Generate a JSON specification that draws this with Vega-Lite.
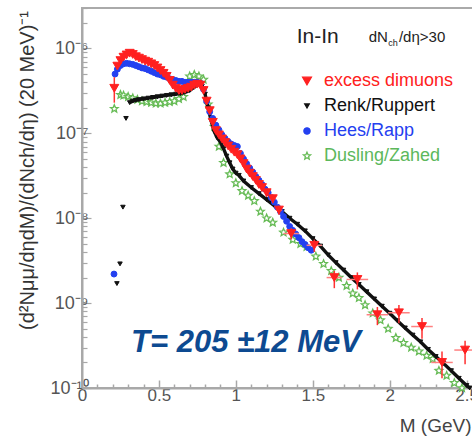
{
  "$schema": "https://vega.github.io/schema/vega-lite/v6.json",
  "autosize": {"type": "none"},
  "padding": {"left": 82, "top": 8, "right": 0, "bottom": 51},
  "width": 400,
  "height": 380,
  "background": "white",
  "resolve": {"axis": {"x": "independent", "y": "independent"}},
  "config": {
    "view": {"stroke": "#aaaaaa", "strokeWidth": 2},
    "font": "Arial",
    "legend": {
      "orient": "none", "legendX": 216, "legendY": 64, "padding": 0,
      "labelFontSize": 18, "labelFont": "Arial", "labelOffset": 8, "rowPadding": 7,
      "symbolStrokeWidth": 1.2, "title": null,
      "symbolSize": {"expr": "datum.value == 'excess dimuons' ? 80 : datum.value == 'Renk/Ruppert' ? 22 : datum.value == 'Hees/Rapp' ? 40 : 60"},
      "labelColor": {"expr": "datum.value == 'excess dimuons' ? '#ff2020' : datum.value == 'Renk/Ruppert' ? '#111111' : datum.value == 'Hees/Rapp' ? '#2440f0' : '#5cb85c'"}
    }
  },
  "datasets": {
    "excess": [
      {"series":"excess dimuons","M":0.21,"v":3.4e-7,"lo":2.3e-7,"hi":4.6e-7},
      {"series":"excess dimuons","M":0.23,"v":6.2e-7},
      {"series":"excess dimuons","M":0.25,"v":7.2e-7},
      {"series":"excess dimuons","M":0.27,"v":7.9e-7},
      {"series":"excess dimuons","M":0.29,"v":8.4e-7},
      {"series":"excess dimuons","M":0.31,"v":8.8e-7},
      {"series":"excess dimuons","M":0.33,"v":8.5e-7},
      {"series":"excess dimuons","M":0.35,"v":8.0e-7},
      {"series":"excess dimuons","M":0.37,"v":7.7e-7},
      {"series":"excess dimuons","M":0.39,"v":7.4e-7},
      {"series":"excess dimuons","M":0.41,"v":7.1e-7},
      {"series":"excess dimuons","M":0.43,"v":6.9e-7},
      {"series":"excess dimuons","M":0.45,"v":6.6e-7},
      {"series":"excess dimuons","M":0.47,"v":6.3e-7},
      {"series":"excess dimuons","M":0.49,"v":5.9e-7},
      {"series":"excess dimuons","M":0.51,"v":5.5e-7},
      {"series":"excess dimuons","M":0.53,"v":5.1e-7},
      {"series":"excess dimuons","M":0.55,"v":4.7e-7},
      {"series":"excess dimuons","M":0.57,"v":4.2e-7},
      {"series":"excess dimuons","M":0.59,"v":3.7e-7},
      {"series":"excess dimuons","M":0.61,"v":3.4e-7},
      {"series":"excess dimuons","M":0.63,"v":3.2e-7},
      {"series":"excess dimuons","M":0.65,"v":3.2e-7},
      {"series":"excess dimuons","M":0.67,"v":3.3e-7},
      {"series":"excess dimuons","M":0.69,"v":3.4e-7},
      {"series":"excess dimuons","M":0.71,"v":3.5e-7},
      {"series":"excess dimuons","M":0.73,"v":3.7e-7},
      {"series":"excess dimuons","M":0.75,"v":3.8e-7},
      {"series":"excess dimuons","M":0.77,"v":3.7e-7},
      {"series":"excess dimuons","M":0.79,"v":3.2e-7},
      {"series":"excess dimuons","M":0.81,"v":2.4e-7},
      {"series":"excess dimuons","M":0.83,"v":1.85e-7},
      {"series":"excess dimuons","M":0.85,"v":1.35e-7},
      {"series":"excess dimuons","M":0.87,"v":1.08e-7},
      {"series":"excess dimuons","M":0.89,"v":9.6e-8},
      {"series":"excess dimuons","M":0.91,"v":8.6e-8},
      {"series":"excess dimuons","M":0.93,"v":7.8e-8},
      {"series":"excess dimuons","M":0.95,"v":7.1e-8},
      {"series":"excess dimuons","M":0.97,"v":6.5e-8},
      {"series":"excess dimuons","M":0.99,"v":6.0e-8},
      {"series":"excess dimuons","M":1.01,"v":5.6e-8},
      {"series":"excess dimuons","M":1.03,"v":5.0e-8},
      {"series":"excess dimuons","M":1.05,"v":4.4e-8},
      {"series":"excess dimuons","M":1.07,"v":3.8e-8},
      {"series":"excess dimuons","M":1.09,"v":3.4e-8},
      {"series":"excess dimuons","M":1.11,"v":3.1e-8},
      {"series":"excess dimuons","M":1.13,"v":2.8e-8},
      {"series":"excess dimuons","M":1.15,"v":2.5e-8},
      {"series":"excess dimuons","M":1.17,"v":2.3e-8},
      {"series":"excess dimuons","M":1.2,"v":2.0e-8,"lo":1.8e-8,"hi":2.2e-8},
      {"series":"excess dimuons","M":1.24,"v":1.7e-8,"lo":1.5e-8,"hi":1.9e-8,"xlo":1.22,"xhi":1.26},
      {"series":"excess dimuons","M":1.28,"v":1.25e-8,"lo":1.1e-8,"hi":1.4e-8,"xlo":1.26,"xhi":1.30},
      {"series":"excess dimuons","M":1.36,"v":6.6e-9,"lo":5.6e-9,"hi":7.6e-9,"xlo":1.31,"xhi":1.41},
      {"series":"excess dimuons","M":1.51,"v":4.8e-9,"lo":4.0e-9,"hi":5.6e-9,"xlo":1.46,"xhi":1.56},
      {"series":"excess dimuons","M":1.64,"v":2.0e-9,"lo":1.5e-9,"hi":2.4e-9,"xlo":1.59,"xhi":1.69},
      {"series":"excess dimuons","M":1.79,"v":1.9e-9,"lo":1.45e-9,"hi":2.3e-9,"xlo":1.72,"xhi":1.86},
      {"series":"excess dimuons","M":1.92,"v":7.3e-10,"lo":5.5e-10,"hi":9.0e-10,"xlo":1.85,"xhi":1.99},
      {"series":"excess dimuons","M":2.06,"v":7.7e-10,"lo":5.8e-10,"hi":9.5e-10,"xlo":1.99,"xhi":2.13},
      {"series":"excess dimuons","M":2.21,"v":5.3e-10,"lo":3.8e-10,"hi":6.7e-10,"xlo":2.14,"xhi":2.28},
      {"series":"excess dimuons","M":2.34,"v":2.0e-10,"lo":1.3e-10,"hi":2.7e-10,"xlo":2.27,"xhi":2.41},
      {"series":"excess dimuons","M":2.49,"v":2.8e-10,"lo":1.9e-10,"hi":3.6e-10,"xlo":2.42,"xhi":2.56}
    ],
    "renk": [
      {"series":"Renk/Ruppert","M":0.227,"v":1.7e-9},
      {"series":"Renk/Ruppert","M":0.247,"v":2.9e-9},
      {"series":"Renk/Ruppert","M":0.266,"v":1.35e-8},
      {"series":"Renk/Ruppert","M":0.286,"v":1.5e-7},
      {"series":"Renk/Ruppert","M":0.31,"v":2.3e-7},
      {"series":"Renk/Ruppert","M":0.33,"v":2.4e-7},
      {"series":"Renk/Ruppert","M":0.35,"v":2.45e-7},
      {"series":"Renk/Ruppert","M":0.37,"v":2.5e-7},
      {"series":"Renk/Ruppert","M":0.40,"v":2.55e-7},
      {"series":"Renk/Ruppert","M":0.43,"v":2.6e-7},
      {"series":"Renk/Ruppert","M":0.46,"v":2.65e-7},
      {"series":"Renk/Ruppert","M":0.49,"v":2.7e-7},
      {"series":"Renk/Ruppert","M":0.52,"v":2.75e-7},
      {"series":"Renk/Ruppert","M":0.55,"v":2.8e-7},
      {"series":"Renk/Ruppert","M":0.58,"v":2.85e-7},
      {"series":"Renk/Ruppert","M":0.61,"v":2.9e-7},
      {"series":"Renk/Ruppert","M":0.64,"v":2.95e-7},
      {"series":"Renk/Ruppert","M":0.67,"v":3.05e-7},
      {"series":"Renk/Ruppert","M":0.70,"v":3.2e-7},
      {"series":"Renk/Ruppert","M":0.73,"v":3.5e-7},
      {"series":"Renk/Ruppert","M":0.76,"v":3.8e-7},
      {"series":"Renk/Ruppert","M":0.78,"v":3.6e-7},
      {"series":"Renk/Ruppert","M":0.80,"v":2.9e-7},
      {"series":"Renk/Ruppert","M":0.82,"v":2.0e-7},
      {"series":"Renk/Ruppert","M":0.84,"v":1.4e-7},
      {"series":"Renk/Ruppert","M":0.86,"v":1.05e-7},
      {"series":"Renk/Ruppert","M":0.88,"v":8.8e-8},
      {"series":"Renk/Ruppert","M":0.90,"v":7.9e-8},
      {"series":"Renk/Ruppert","M":0.92,"v":6.6e-8},
      {"series":"Renk/Ruppert","M":0.94,"v":5.4e-8},
      {"series":"Renk/Ruppert","M":0.96,"v":4.5e-8},
      {"series":"Renk/Ruppert","M":0.98,"v":3.8e-8},
      {"series":"Renk/Ruppert","M":1.00,"v":3.4e-8},
      {"series":"Renk/Ruppert","M":1.02,"v":3.2e-8},
      {"series":"Renk/Ruppert","M":1.05,"v":2.75e-8},
      {"series":"Renk/Ruppert","M":1.10,"v":2.3e-8},
      {"series":"Renk/Ruppert","M":1.15,"v":1.95e-8},
      {"series":"Renk/Ruppert","M":1.20,"v":1.66e-8},
      {"series":"Renk/Ruppert","M":1.25,"v":1.41e-8},
      {"series":"Renk/Ruppert","M":1.30,"v":1.2e-8},
      {"series":"Renk/Ruppert","M":1.35,"v":1.0e-8},
      {"series":"Renk/Ruppert","M":1.40,"v":8.5e-9},
      {"series":"Renk/Ruppert","M":1.45,"v":7.1e-9},
      {"series":"Renk/Ruppert","M":1.50,"v":5.75e-9},
      {"series":"Renk/Ruppert","M":1.55,"v":4.7e-9},
      {"series":"Renk/Ruppert","M":1.60,"v":3.7e-9},
      {"series":"Renk/Ruppert","M":1.65,"v":3.0e-9},
      {"series":"Renk/Ruppert","M":1.70,"v":2.45e-9},
      {"series":"Renk/Ruppert","M":1.75,"v":2.0e-9},
      {"series":"Renk/Ruppert","M":1.80,"v":1.66e-9},
      {"series":"Renk/Ruppert","M":1.85,"v":1.36e-9},
      {"series":"Renk/Ruppert","M":1.90,"v":1.12e-9},
      {"series":"Renk/Ruppert","M":1.95,"v":9.2e-10},
      {"series":"Renk/Ruppert","M":2.00,"v":7.6e-10},
      {"series":"Renk/Ruppert","M":2.05,"v":6.2e-10},
      {"series":"Renk/Ruppert","M":2.10,"v":5.1e-10},
      {"series":"Renk/Ruppert","M":2.15,"v":4.2e-10},
      {"series":"Renk/Ruppert","M":2.20,"v":3.5e-10},
      {"series":"Renk/Ruppert","M":2.25,"v":2.85e-10},
      {"series":"Renk/Ruppert","M":2.30,"v":2.35e-10},
      {"series":"Renk/Ruppert","M":2.35,"v":1.95e-10},
      {"series":"Renk/Ruppert","M":2.40,"v":1.6e-10},
      {"series":"Renk/Ruppert","M":2.45,"v":1.3e-10},
      {"series":"Renk/Ruppert","M":2.50,"v":1.07e-10},
      {"series":"Renk/Ruppert","M":2.52,"v":1.0e-10}
    ],
    "hees": [
      {"series":"Hees/Rapp","M":0.208,"v":2.2e-9},
      {"series":"Hees/Rapp","M":0.215,"v":5.0e-7},
      {"series":"Hees/Rapp","M":0.23,"v":5.7e-7},
      {"series":"Hees/Rapp","M":0.25,"v":6.3e-7},
      {"series":"Hees/Rapp","M":0.27,"v":6.6e-7},
      {"series":"Hees/Rapp","M":0.29,"v":6.7e-7},
      {"series":"Hees/Rapp","M":0.31,"v":6.6e-7},
      {"series":"Hees/Rapp","M":0.33,"v":6.5e-7},
      {"series":"Hees/Rapp","M":0.35,"v":6.3e-7},
      {"series":"Hees/Rapp","M":0.37,"v":6.1e-7},
      {"series":"Hees/Rapp","M":0.39,"v":5.9e-7},
      {"series":"Hees/Rapp","M":0.41,"v":5.8e-7},
      {"series":"Hees/Rapp","M":0.43,"v":5.6e-7},
      {"series":"Hees/Rapp","M":0.45,"v":5.4e-7},
      {"series":"Hees/Rapp","M":0.47,"v":5.2e-7},
      {"series":"Hees/Rapp","M":0.49,"v":5.0e-7},
      {"series":"Hees/Rapp","M":0.51,"v":4.9e-7},
      {"series":"Hees/Rapp","M":0.53,"v":4.7e-7},
      {"series":"Hees/Rapp","M":0.55,"v":4.6e-7},
      {"series":"Hees/Rapp","M":0.57,"v":4.4e-7},
      {"series":"Hees/Rapp","M":0.59,"v":4.3e-7},
      {"series":"Hees/Rapp","M":0.61,"v":4.2e-7},
      {"series":"Hees/Rapp","M":0.63,"v":4.1e-7},
      {"series":"Hees/Rapp","M":0.65,"v":4.1e-7},
      {"series":"Hees/Rapp","M":0.67,"v":4.0e-7},
      {"series":"Hees/Rapp","M":0.69,"v":4.0e-7},
      {"series":"Hees/Rapp","M":0.71,"v":4.0e-7},
      {"series":"Hees/Rapp","M":0.73,"v":4.0e-7},
      {"series":"Hees/Rapp","M":0.75,"v":4.0e-7},
      {"series":"Hees/Rapp","M":0.77,"v":3.9e-7},
      {"series":"Hees/Rapp","M":0.79,"v":3.3e-7},
      {"series":"Hees/Rapp","M":0.81,"v":2.4e-7},
      {"series":"Hees/Rapp","M":0.83,"v":1.8e-7},
      {"series":"Hees/Rapp","M":0.85,"v":1.5e-7},
      {"series":"Hees/Rapp","M":0.87,"v":1.25e-7},
      {"series":"Hees/Rapp","M":0.89,"v":1.1e-7},
      {"series":"Hees/Rapp","M":0.91,"v":9.6e-8},
      {"series":"Hees/Rapp","M":0.93,"v":8.7e-8},
      {"series":"Hees/Rapp","M":0.95,"v":8.0e-8},
      {"series":"Hees/Rapp","M":0.97,"v":7.5e-8},
      {"series":"Hees/Rapp","M":0.99,"v":7.2e-8},
      {"series":"Hees/Rapp","M":1.01,"v":7.0e-8},
      {"series":"Hees/Rapp","M":1.03,"v":5.8e-8},
      {"series":"Hees/Rapp","M":1.05,"v":5.0e-8},
      {"series":"Hees/Rapp","M":1.07,"v":4.4e-8},
      {"series":"Hees/Rapp","M":1.09,"v":3.9e-8},
      {"series":"Hees/Rapp","M":1.11,"v":3.5e-8},
      {"series":"Hees/Rapp","M":1.13,"v":3.1e-8},
      {"series":"Hees/Rapp","M":1.15,"v":2.8e-8},
      {"series":"Hees/Rapp","M":1.17,"v":2.5e-8},
      {"series":"Hees/Rapp","M":1.19,"v":2.2e-8},
      {"series":"Hees/Rapp","M":1.21,"v":2.0e-8},
      {"series":"Hees/Rapp","M":1.23,"v":1.75e-8},
      {"series":"Hees/Rapp","M":1.25,"v":1.55e-8},
      {"series":"Hees/Rapp","M":1.27,"v":1.35e-8},
      {"series":"Hees/Rapp","M":1.29,"v":1.2e-8},
      {"series":"Hees/Rapp","M":1.31,"v":1.05e-8},
      {"series":"Hees/Rapp","M":1.33,"v":9.2e-9},
      {"series":"Hees/Rapp","M":1.35,"v":8.0e-9},
      {"series":"Hees/Rapp","M":1.37,"v":7.2e-9},
      {"series":"Hees/Rapp","M":1.39,"v":6.5e-9},
      {"series":"Hees/Rapp","M":1.41,"v":5.9e-9},
      {"series":"Hees/Rapp","M":1.43,"v":5.3e-9},
      {"series":"Hees/Rapp","M":1.45,"v":4.9e-9},
      {"series":"Hees/Rapp","M":1.47,"v":4.5e-9},
      {"series":"Hees/Rapp","M":1.49,"v":4.2e-9}
    ],
    "dusling": [
      {"series":"Dusling/Zahed","M":0.21,"v":1.95e-7},
      {"series":"Dusling/Zahed","M":0.25,"v":2.85e-7},
      {"series":"Dusling/Zahed","M":0.27,"v":2.8e-7},
      {"series":"Dusling/Zahed","M":0.30,"v":2.7e-7},
      {"series":"Dusling/Zahed","M":0.33,"v":2.6e-7},
      {"series":"Dusling/Zahed","M":0.36,"v":2.5e-7},
      {"series":"Dusling/Zahed","M":0.39,"v":2.4e-7},
      {"series":"Dusling/Zahed","M":0.42,"v":2.35e-7},
      {"series":"Dusling/Zahed","M":0.45,"v":2.3e-7},
      {"series":"Dusling/Zahed","M":0.48,"v":2.25e-7},
      {"series":"Dusling/Zahed","M":0.51,"v":2.25e-7},
      {"series":"Dusling/Zahed","M":0.54,"v":2.3e-7},
      {"series":"Dusling/Zahed","M":0.57,"v":2.35e-7},
      {"series":"Dusling/Zahed","M":0.60,"v":2.4e-7},
      {"series":"Dusling/Zahed","M":0.63,"v":2.55e-7},
      {"series":"Dusling/Zahed","M":0.66,"v":2.7e-7},
      {"series":"Dusling/Zahed","M":0.70,"v":4.7e-7},
      {"series":"Dusling/Zahed","M":0.73,"v":4.9e-7},
      {"series":"Dusling/Zahed","M":0.76,"v":4.7e-7},
      {"series":"Dusling/Zahed","M":0.79,"v":4.3e-7},
      {"series":"Dusling/Zahed","M":0.82,"v":2.2e-7},
      {"series":"Dusling/Zahed","M":0.86,"v":1.2e-7},
      {"series":"Dusling/Zahed","M":0.89,"v":7.0e-8},
      {"series":"Dusling/Zahed","M":0.92,"v":4.5e-8},
      {"series":"Dusling/Zahed","M":0.96,"v":3.3e-8},
      {"series":"Dusling/Zahed","M":1.00,"v":2.6e-8},
      {"series":"Dusling/Zahed","M":1.04,"v":2.1e-8},
      {"series":"Dusling/Zahed","M":1.08,"v":1.85e-8},
      {"series":"Dusling/Zahed","M":1.12,"v":1.6e-8},
      {"series":"Dusling/Zahed","M":1.16,"v":1.2e-8},
      {"series":"Dusling/Zahed","M":1.20,"v":1.0e-8},
      {"series":"Dusling/Zahed","M":1.24,"v":8.9e-9},
      {"series":"Dusling/Zahed","M":1.31,"v":6.8e-9},
      {"series":"Dusling/Zahed","M":1.37,"v":5.6e-9},
      {"series":"Dusling/Zahed","M":1.42,"v":5.0e-9},
      {"series":"Dusling/Zahed","M":1.46,"v":4.6e-9},
      {"series":"Dusling/Zahed","M":1.52,"v":3.55e-9},
      {"series":"Dusling/Zahed","M":1.57,"v":2.9e-9},
      {"series":"Dusling/Zahed","M":1.62,"v":2.4e-9},
      {"series":"Dusling/Zahed","M":1.67,"v":2.0e-9},
      {"series":"Dusling/Zahed","M":1.72,"v":1.6e-9},
      {"series":"Dusling/Zahed","M":1.76,"v":1.3e-9},
      {"series":"Dusling/Zahed","M":1.80,"v":1.15e-9},
      {"series":"Dusling/Zahed","M":1.84,"v":9.5e-10},
      {"series":"Dusling/Zahed","M":1.89,"v":7.6e-10},
      {"series":"Dusling/Zahed","M":1.94,"v":6.3e-10},
      {"series":"Dusling/Zahed","M":1.99,"v":5.0e-10},
      {"series":"Dusling/Zahed","M":2.04,"v":3.9e-10},
      {"series":"Dusling/Zahed","M":2.09,"v":3.4e-10},
      {"series":"Dusling/Zahed","M":2.14,"v":3.0e-10},
      {"series":"Dusling/Zahed","M":2.19,"v":2.7e-10},
      {"series":"Dusling/Zahed","M":2.24,"v":2.4e-10},
      {"series":"Dusling/Zahed","M":2.28,"v":2.2e-10},
      {"series":"Dusling/Zahed","M":2.32,"v":1.6e-10},
      {"series":"Dusling/Zahed","M":2.37,"v":1.4e-10},
      {"series":"Dusling/Zahed","M":2.42,"v":1.15e-10},
      {"series":"Dusling/Zahed","M":2.47,"v":1.0e-10}
    ]
  },
  "layer": [
    {
      "encoding": {
        "x": {
          "field": "M", "type": "quantitative",
          "scale": {"domain": [0, 2.6], "nice": false, "zero": false},
          "axis": {
            "title": "M (GeV)",
            "values": [0,0.1,0.2,0.3,0.4,0.5,0.6,0.7,0.8,0.9,1,1.1,1.2,1.3,1.4,1.5,1.6,1.7,1.8,1.9,2,2.1,2.2,2.3,2.4,2.5,2.6],
            "labelExpr": "abs(datum.value*2 - round(datum.value*2)) < 0.001 ? format(datum.value, '~g') : ''",
            "tickSize": {"condition": {"test": "abs(datum.value*2 - round(datum.value*2)) < 0.001", "value": -8}, "value": -4},
            "titleX": 389, "titleY": 37, "titleAlign": "right", "titleBaseline": "middle",
            "titleFontSize": 19, "titleFontWeight": "normal", "titleColor": "#444444", "titleFont": "Arial",
            "labelFontSize": 17, "labelColor": "#555555", "labelFont": "Arial", "labelPadding": 7,
            "labelFlush": false, "labelOverlap": false,
            "domainColor": "#a8a8a8", "domainWidth": 2, "tickColor": "#a8a8a8", "tickWidth": 1.5, "grid": false
          }
        },
        "y": {
          "field": "v", "type": "quantitative",
          "scale": {"type": "log", "domain": [1e-10, 3e-6], "nice": false},
          "axis": {
            "title": "(d²Nμμ/dηdM)/(dNch/dη) (20 MeV)⁻¹",
            "values": [1e-10,2e-10,3e-10,4e-10,5e-10,6e-10,7e-10,8e-10,9e-10,1e-9,2e-9,3e-9,4e-9,5e-9,6e-9,7e-9,8e-9,9e-9,1e-8,2e-8,3e-8,4e-8,5e-8,6e-8,7e-8,8e-8,9e-8,1e-7,2e-7,3e-7,4e-7,5e-7,6e-7,7e-7,8e-7,9e-7,1e-6,2e-6,3e-6],
            "labelExpr": "abs(log(datum.value)/LN10 - round(log(datum.value)/LN10)) > 0.001 ? '' : round(log(datum.value)/LN10) == -10 ? '10⁻¹⁰' : round(log(datum.value)/LN10) == -9 ? '10⁻⁹' : round(log(datum.value)/LN10) == -8 ? '10⁻⁸' : round(log(datum.value)/LN10) == -7 ? '10⁻⁷' : '10⁻⁶'",
            "tickSize": {"condition": {"test": "abs(log(datum.value)/LN10 - round(log(datum.value)/LN10)) < 0.001", "value": -9}, "value": -5},
            "titleX": -55, "titleY": 162, "titleAngle": 270, "titleAlign": "center", "titleBaseline": "middle",
            "titleFontSize": 20, "titleFontWeight": "normal", "titleColor": "#333333", "titleFont": "Arial",
            "labelFontSize": 18, "labelColor": "#555555", "labelFont": "Arial", "labelPadding": 3,
            "labelOverlap": false, "labelFlush": false,
            "domainColor": "#a8a8a8", "domainWidth": 2, "tickColor": "#a8a8a8", "tickWidth": 1.2, "grid": false
          }
        }
      },
      "layer": [
        {
          "data": {"name": "dusling"},
          "mark": {"type": "point", "filled": true, "opacity": 1, "strokeWidth": 1.3, "size": 65},
          "encoding": {
            "shape": {"field": "series", "type": "nominal", "scale": {"domain": ["excess dimuons","Renk/Ruppert","Hees/Rapp","Dusling/Zahed"], "range": ["triangle-down","triangle-down","circle","M0,-1L0.265,-0.364L0.951,-0.309L0.428,0.139L0.588,0.809L0,0.45L-0.588,0.809L-0.428,0.139L-0.951,-0.309L-0.265,-0.364Z"]}},
            "fill": {"field": "series", "type": "nominal", "scale": {"domain": ["excess dimuons","Renk/Ruppert","Hees/Rapp","Dusling/Zahed"], "range": ["#ff2020","#111111","#2440f0","#ffffff"]}},
            "stroke": {"field": "series", "type": "nominal", "scale": {"domain": ["excess dimuons","Renk/Ruppert","Hees/Rapp","Dusling/Zahed"], "range": ["#ff2020","#111111","#2440f0","#66bb55"]}}
          }
        },
        {
          "data": {"name": "renk"},
          "transform": [{"filter": "datum.M >= 0.3"}],
          "mark": {"type": "line", "color": "#111111", "strokeWidth": 3.4}
        },
        {
          "data": {"name": "renk"},
          "mark": {"type": "point", "filled": true, "opacity": 1, "strokeWidth": 1, "size": 20},
          "encoding": {
            "shape": {"field": "series", "type": "nominal"},
            "fill": {"field": "series", "type": "nominal"},
            "stroke": {"field": "series", "type": "nominal"}
          }
        },
        {
          "data": {"name": "hees"},
          "mark": {"type": "point", "filled": true, "opacity": 1, "strokeWidth": 1, "size": 35},
          "encoding": {
            "shape": {"field": "series", "type": "nominal"},
            "fill": {"field": "series", "type": "nominal"},
            "stroke": {"field": "series", "type": "nominal"}
          }
        },
        {
          "data": {"name": "excess"},
          "transform": [{"filter": "isValid(datum.lo)"}],
          "mark": {"type": "rule", "color": "#ff3030", "strokeWidth": 1.5},
          "encoding": {
            "y": {"field": "lo", "type": "quantitative"},
            "y2": {"field": "hi"}
          }
        },
        {
          "data": {"name": "excess"},
          "transform": [{"filter": "isValid(datum.xlo)"}],
          "mark": {"type": "rule", "color": "#ff8080", "strokeWidth": 1.5},
          "encoding": {
            "x": {"field": "xlo", "type": "quantitative"},
            "x2": {"field": "xhi"}
          }
        },
        {
          "data": {"name": "excess"},
          "mark": {"type": "point", "filled": true, "opacity": 1, "strokeWidth": 1, "size": 80},
          "encoding": {
            "shape": {"field": "series", "type": "nominal"},
            "fill": {"field": "series", "type": "nominal"},
            "stroke": {"field": "series", "type": "nominal"}
          }
        }
      ]
    },
    {
      "data": {"values": [{"note": "T= 205 ±12 MeV"}]},
      "mark": {"type": "text", "font": "Arial", "fontSize": 31, "fontWeight": "bold", "fontStyle": "italic", "fill": "#0d4a91", "align": "center", "baseline": "middle"},
      "encoding": {"x": {"datum": 1.066, "type": "quantitative", "axis": null}, "y": {"datum": 3.4e-10, "type": "quantitative", "axis": null}, "text": {"field": "note", "type": "nominal"}}
    },
    {
      "data": {"values": [{"note": "In-In"}]},
      "mark": {"type": "text", "font": "Arial", "fontSize": 21, "fill": "#222222", "align": "left", "baseline": "middle"},
      "encoding": {"x": {"datum": 1.396, "type": "quantitative", "axis": null}, "y": {"datum": 1.35e-6, "type": "quantitative", "axis": null}, "text": {"field": "note", "type": "nominal"}}
    },
    {
      "data": {"values": [{"note": "dN"}]},
      "mark": {"type": "text", "font": "Arial", "fontSize": 15, "fill": "#222222", "align": "left", "baseline": "middle"},
      "encoding": {"x": {"datum": 1.864, "type": "quantitative", "axis": null}, "y": {"datum": 1.35e-6, "type": "quantitative", "axis": null}, "text": {"field": "note", "type": "nominal"}}
    },
    {
      "data": {"values": [{"note": "ch"}]},
      "mark": {"type": "text", "font": "Arial", "fontSize": 9, "fill": "#222222", "align": "left", "baseline": "middle", "dy": 6},
      "encoding": {"x": {"datum": 1.99, "type": "quantitative", "axis": null}, "y": {"datum": 1.35e-6, "type": "quantitative", "axis": null}, "text": {"field": "note", "type": "nominal"}}
    },
    {
      "data": {"values": [{"note": "/dη>30"}]},
      "mark": {"type": "text", "font": "Arial", "fontSize": 15, "fill": "#222222", "align": "left", "baseline": "middle"},
      "encoding": {"x": {"datum": 2.06, "type": "quantitative", "axis": null}, "y": {"datum": 1.35e-6, "type": "quantitative", "axis": null}, "text": {"field": "note", "type": "nominal"}}
    }
  ]
}
